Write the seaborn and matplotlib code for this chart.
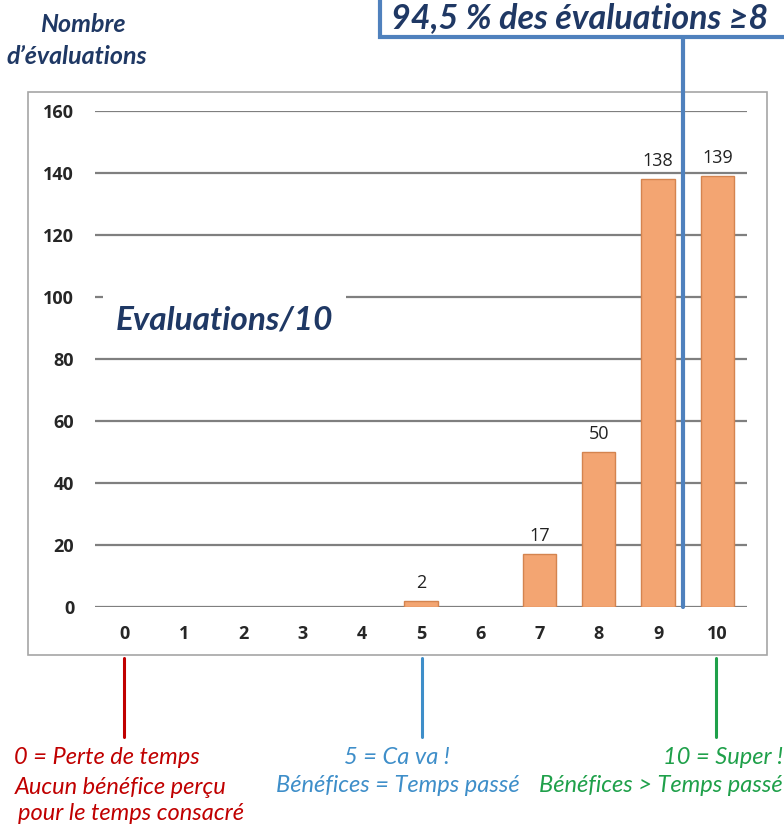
import numpy as np
import pandas as pd
import matplotlib
matplotlib.use("Agg")
import matplotlib.pyplot as plt
import seaborn as sns
from matplotlib.patches import Rectangle
from matplotlib.lines import Line2D

# ---- data ----
scores = ["0", "1", "2", "3", "4", "5", "6", "7", "8", "9", "10"]
counts = [0, 0, 0, 0, 0, 2, 0, 17, 50, 138, 139]
y_ticks = [0, 20, 40, 60, 80, 100, 120, 140, 160]

df = pd.DataFrame({"score": scores, "count": counts})

sns.set_theme(style="white")
plt.rcParams["font.family"] = ["Lato", "DejaVu Sans"]

navy = "#1F3864"
bar_color = "#F3A572"

W, H = 784, 825
fig = plt.figure(figsize=(W / 100, H / 100), dpi=100)
ax = fig.add_axes([95 / W, 1 - 607 / H, 652 / W, 496 / H])

# outer chart frame
fig.patches.append(Rectangle((28 / W, 1 - 655 / H), (767 - 28) / W, (655 - 92) / H,
                             transform=fig.transFigure, fill=False, edgecolor="#A6A6A6",
                             linewidth=1.2, zorder=0))

sns.barplot(data=df, x="score", y="count", color=bar_color, width=0.56,
            edgecolor="#D4844F", linewidth=1.0, saturation=1, ax=ax, zorder=3)
# no outline for empty bars
for p in ax.patches:
    if p.get_height() == 0:
        p.set_linewidth(0)

ax.set_ylim(0, 160)
ax.set_xlim(-0.5, 10.5)
ax.set_yticks(y_ticks)
ax.yaxis.grid(True, color="#7F7F7F", linewidth=1.6)
ax.set_axisbelow(True)
for s in ax.spines.values():
    s.set_visible(False)
ax.set_xlabel("")
ax.set_ylabel("")
ax.tick_params(axis="y", length=0, pad=15, labelsize=13)
ax.tick_params(axis="x", length=0, pad=13, labelsize=13)
for lbl in ax.get_xticklabels() + ax.get_yticklabels():
    lbl.set_fontweight("bold")
    lbl.set_family("Open Sans")

# value labels
for i, v in enumerate(counts):
    if v > 0:
        ax.text(i, v + 3, str(v), ha="center", va="bottom", fontsize=13,
                family="Open Sans", color="#222222")

# label inside the plot, hiding part of the 100 gridline
ax.text(-0.15, 92.5, "Evaluations/10", fontsize=24, fontweight="bold", style="italic",
        color=navy, ha="left", va="center", zorder=4,
        bbox=dict(facecolor="white", edgecolor="none", pad=9))

# y axis title
fig.text(83 / W, 1 - 25 / H, "Nombre", fontsize=18, fontweight="bold", style="italic",
         color=navy, ha="center", va="center")
fig.text(77 / W, 1 - 56 / H, "d\u2019évaluations", fontsize=18, fontweight="bold",
         style="italic", color=navy, ha="center", va="center")

# annotation box at top
box_blue = "#4F81BD"
fig.patches.append(Rectangle((380 / W, 1 - 37 / H), 440 / W, 60 / H,
                             transform=fig.transFigure, facecolor="white", edgecolor=box_blue,
                             linewidth=3, zorder=5, clip_on=False))
fig.text(580 / W, 1 - 18 / H, "94,5 % des évaluations \u22658", fontsize=24.5,
         fontweight="bold", style="italic", color=navy, ha="center", va="center", zorder=6)
fig.lines.append(Line2D([683 / W, 683 / W], [1 - 37 / H, 1 - 607 / H],
                        transform=fig.transFigure, color=box_blue, linewidth=3, zorder=6))

# scale legend below the chart
red = "#C00000"
blue = "#3E8EC9"
green = "#1FA04A"
for xpx, col in [(124, red), (422, blue), (716, green)]:
    fig.lines.append(Line2D([xpx / W, xpx / W], [1 - 658 / H, 1 - 737 / H],
                            transform=fig.transFigure, color=col, linewidth=2.2))

hand = dict(fontsize=17, style="italic", va="center")
fig.text(107 / W, 1 - 758 / H, "0 = Perte de temps", color=red, ha="center", **hand)
fig.text(121 / W, 1 - 787 / H, "Aucun bénéfice perçu", color=red, ha="center", **hand)
fig.text(131 / W, 1 - 814 / H, "pour le temps consacré", color=red, ha="center", **hand)
fig.text(397 / W, 1 - 758 / H, "5 = Ca va !", color=blue, ha="center", **hand)
fig.text(398 / W, 1 - 786 / H, "Bénéfices = Temps passé", color=blue, ha="center", **hand)
fig.text(783 / W, 1 - 758 / H, "10 = Super !", color=green, ha="right", **hand)
fig.text(783 / W, 1 - 786 / H, "Bénéfices > Temps passé", color=green, ha="right", **hand)

fig.savefig("out.png", dpi=100, facecolor="white")
